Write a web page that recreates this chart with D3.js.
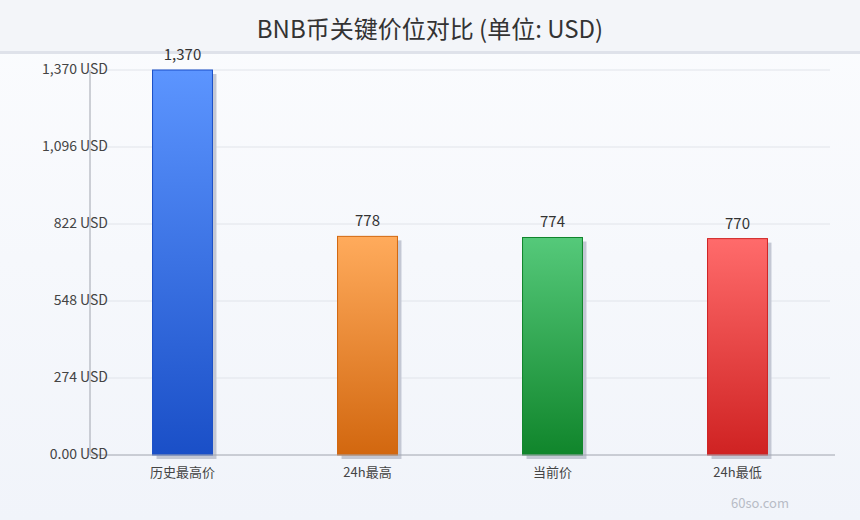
<!DOCTYPE html>
<html><head><meta charset="utf-8">
<script src="https://cdn.jsdelivr.net/npm/d3@7"></script>
<style>body{margin:0;font-family:"Noto Sans CJK SC","Noto Sans",sans-serif;}</style>
</head><body><svg id="chart" width="860" height="520"></svg>
<script>
let categories = ["历史最高价", "24h最高", "当前价", "24h最低"];
let prices = [1370, 778, 774, 770];
let tickValues = [0, 274, 548, 822, 1096, 1370];
let colorsTop = ["#5c95ff", "#ffab5c", "#55c97a", "#ff6b6b"];
let colorsBottom = ["#1a4fc7", "#d2670f", "#10852b", "#cf2222"];

let svg = d3.select("#chart");
let defs = svg.append("defs");

let bg = defs.append("linearGradient").attr("id", "bg").attr("x1", 0).attr("y1", 0).attr("x2", 0).attr("y2", 1);
bg.append("stop").attr("offset", 0).attr("stop-color", "#fbfcfe");
bg.append("stop").attr("offset", 1).attr("stop-color", "#f1f4fa");
svg.append("rect").attr("width", 860).attr("height", 520).attr("fill", "url(#bg)");
svg.append("rect").attr("width", 860).attr("height", 52).attr("fill", "#f3f5f9");
svg.append("rect").attr("y", 51).attr("width", 860).attr("height", 3).attr("fill", "#dfe2ea");

svg.append("text").attr("x", 430).attr("y", 38).attr("text-anchor", "middle")
    .attr("font-size", 24).attr("fill", "#333").text("BNB币关键价位对比 (单位: USD)");

let x = d3.scaleBand().domain(categories).range([90, 830]).paddingInner(0.676).paddingOuter(0.338);
let y = d3.scaleLinear().domain([0, 1370]).range([455, 70]);

// grid
svg.append("g").selectAll("line").data(tickValues.slice(1)).join("line")
    .attr("x1", 90).attr("x2", 830).attr("y1", d => y(d)).attr("y2", d => y(d))
    .attr("stroke", "#e1e4ea").attr("stroke-width", 1);

categories.forEach((c, i) => {
    let g = defs.append("linearGradient").attr("id", "g" + i).attr("x1", 0).attr("y1", 0).attr("x2", 0).attr("y2", 1);
    g.append("stop").attr("offset", 0).attr("stop-color", colorsTop[i]);
    g.append("stop").attr("offset", 1).attr("stop-color", colorsBottom[i]);
});

let bars = svg.append("g");
bars.selectAll(".shadow").data(prices).join("rect").attr("class", "shadow")
    .attr("x", (d, i) => x(categories[i]) + 4).attr("y", d => y(d) + 4)
    .attr("width", x.bandwidth()).attr("height", d => 455 - y(d))
    .attr("fill", "#c4c8d4");
bars.selectAll(".bar").data(prices).join("rect").attr("class", "bar")
    .attr("x", (d, i) => x(categories[i])).attr("y", d => y(d))
    .attr("width", x.bandwidth()).attr("height", d => 455 - y(d))
    .attr("fill", (d, i) => `url(#g${i})`).attr("stroke", (d, i) => colorsBottom[i]).attr("stroke-width", 1);
bars.selectAll(".val").data(prices).join("text").attr("class", "val")
    .attr("x", (d, i) => x(categories[i]) + x.bandwidth() / 2).attr("y", d => y(d) - 10)
    .attr("text-anchor", "middle").attr("font-size", 15).attr("fill", "#333")
    .text(d => d3.format(",")(d));

// axes
svg.append("line").attr("x1", 90).attr("x2", 90).attr("y1", 70).attr("y2", 455).attr("stroke", "#a0a4ae");
svg.append("line").attr("x1", 90).attr("x2", 835).attr("y1", 455).attr("y2", 455).attr("stroke", "#a0a4ae");
svg.append("g").selectAll("text").data(tickValues).join("text")
    .attr("x", 108).attr("y", d => y(d) + 4).attr("text-anchor", "end")
    .attr("font-size", 14).attr("fill", "#444")
    .text(d => (d === 0 ? "0.00" : d3.format(",")(d)) + " USD");
svg.append("g").selectAll("text").data(categories).join("text")
    .attr("x", d => x(d) + x.bandwidth() / 2).attr("y", 477).attr("text-anchor", "middle")
    .attr("font-size", 13).attr("fill", "#444").text(d => d);

svg.append("text").attr("x", 789).attr("y", 508).attr("text-anchor", "end")
    .attr("font-size", 13).attr("fill", "#b8bcc6").text("60so.com");
</script></body></html>
